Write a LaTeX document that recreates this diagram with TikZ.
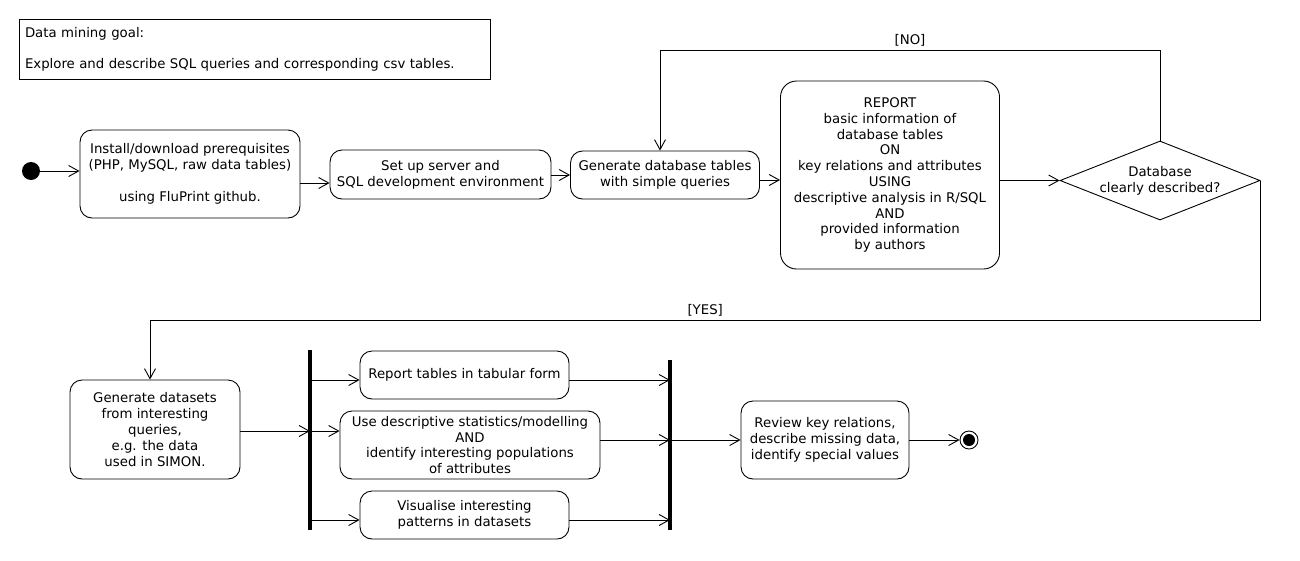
\documentclass[tikz,border=0pt]{standalone}
\usepackage{fontspec}
\setmainfont{DejaVu Sans}
\usetikzlibrary{arrows.meta,shapes.geometric}
\begin{document}
\begin{tikzpicture}[x=1pt,y=-1pt,
  every node/.style={font=\fontsize{13.3}{15.8}\selectfont},
  act/.style={draw, rounded corners=12pt, align=center, inner sep=0pt, line width=0.9pt},
  arr/.style={-{Straight Barb[length=10pt,width=11pt]}, line width=0.9pt},
  bar/.style={fill=black, inner sep=0pt, minimum width=4pt},
]
\useasboundingbox (0,0) rectangle (1300,560);

% goal note
\node[draw, line width=0.9pt, minimum width=471pt, minimum height=60pt, text width=459pt,
      align=left, inner xsep=6pt, inner ysep=0pt] (goal) at (254.5,49)
  {Data mining goal:\\[15pt]Explore and describe SQL queries and corresponding csv tables.};

% start
\node[circle, fill=black, minimum size=18pt, inner sep=0pt] (start) at (31,171) {};

% top row
\node[act, minimum width=220pt, minimum height=88pt] (b1) at (190,174)
  {Install/download prerequisites\\(PHP, MySQL, raw data tables)\\[15.8pt]using FluPrint github.};
\node[act, minimum width=221pt, minimum height=49pt] (b2) at (440.5,174.5)
  {Set up server and\\SQL development environment};
\node[act, minimum width=189pt, minimum height=48pt] (b3) at (665,175)
  {Generate database tables\\with simple queries};
\node[act, rounded corners=16pt, minimum width=219pt, minimum height=188pt] (b4) at (890,175)
  {REPORT\\basic information of\\database tables\\ON\\key relations and attributes\\USING\\descriptive analysis in R/SQL\\AND\\provided information\\by authors};
\node[diamond, draw, line width=0.9pt, minimum width=200pt, minimum height=79pt, inner sep=0pt] (d) at (1160,180.5) {};
\node[align=center] (dtext) at (d) {Database\\clearly described?};

% bottom row
\node[act, minimum width=170pt, minimum height=99pt] (b5) at (155,429.5)
  {Generate datasets\\from interesting\\queries,\\e.g. the data\\used in SIMON.};
\node[bar, minimum height=180pt] (fork) at (310,440) {};
\node[act, minimum width=209pt, minimum height=48pt] (rep) at (464.5,375)
  {Report tables in tabular form};
\node[act, minimum width=260pt, minimum height=68pt] (mid) at (470,445)
  {Use descriptive statistics/modelling\\AND\\identify interesting populations\\of attributes};
\node[act, minimum width=209pt, minimum height=48pt] (vis) at (464.5,515)
  {Visualise interesting\\patterns in datasets};
\node[bar, minimum height=170pt] (join) at (670,445) {};
\node[act, minimum width=168pt, minimum height=78pt] (rev) at (825,440)
  {Review key relations,\\describe missing data,\\identify special values};
\node[circle, draw, line width=0.9pt, minimum size=18pt, inner sep=0pt] (endc) at (969,440) {};
\node[circle, fill=black, minimum size=12pt, inner sep=0pt] (endi) at (endc) {};

% connectors
\draw[arr] (start.east) -- (b1.west |- start.east);
\draw[arr] (b1.east |- 0,183) -- (b2.west |- 0,183);
\draw[arr] (b2.east |- 0,175) -- (b3.west |- 0,175);
\draw[arr] (b3.east |- 0,180) -- (b4.west |- 0,180);
\draw[arr] (b4.east |- d.west) -- (d.west);
\draw[arr] (d.north) |- node[pos=0.75, above=0pt] {[NO]} (660,50) -- (b3.north -| 660,0);
\draw[arr] (d.east) |- node[pos=0.75, above=0pt] {[YES]} (150,320) -- (b5.north -| 150,0);

\draw[arr] (b5.east |- 0,431) -- (fork.center |- 0,431);
\draw[arr] (fork.east |- 0,380) -- (rep.west |- 0,380);
\draw[arr] (fork.east |- 0,431) -- (mid.west |- 0,431);
\draw[arr] (fork.east |- 0,520) -- (vis.west |- 0,520);
\draw[arr] (rep.east |- 0,380) -- (join.center |- 0,380);
\draw[arr] (mid.east |- 0,440) -- (join.center |- 0,440);
\draw[arr] (vis.east |- 0,520) -- (join.center |- 0,520);
\draw[arr] (join.east |- rev.west) -- (rev.west);
\draw[arr] (rev.east) -- (endc.west);
\end{tikzpicture}
\end{document}
